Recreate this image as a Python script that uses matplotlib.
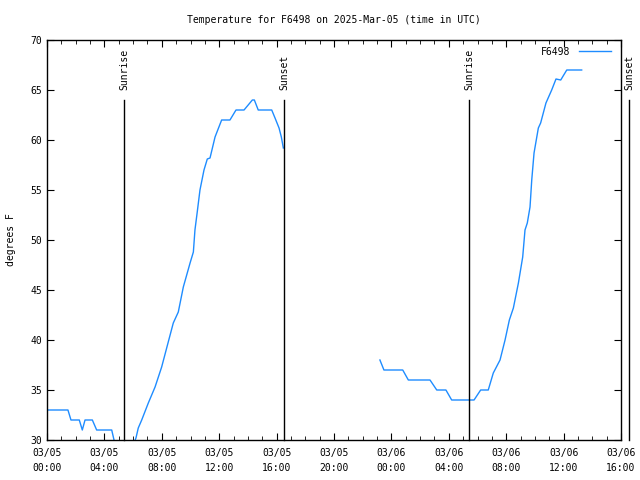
import matplotlib

matplotlib.use("Agg")

import matplotlib.pyplot as plt
from matplotlib.ticker import MultipleLocator

# hours since 2025-03-05 00:00 UTC
seg1_t = [0.0, 1.46, 1.67, 2.25, 2.46, 2.65, 3.16, 3.46, 4.51, 4.67, 5.0, 5.5, 6.0,
          6.20, 6.36, 6.60, 7.06, 7.53, 7.99, 8.45, 8.80, 9.15, 9.50, 9.97, 10.20,
          10.31, 10.47, 10.66, 10.94, 11.17, 11.36, 11.71, 12.17, 12.75, 13.17, 13.73,
          14.31, 14.45, 14.72, 15.66, 15.89, 16.17, 16.33, 16.47]
seg1_f = [33, 33, 32, 32, 31, 32, 32, 31, 31, 30, 29, 29, 29.5,
          30.2, 31.2, 32, 33.7, 35.3, 37.3, 39.8, 41.7, 42.8, 45.3, 47.7, 48.8,
          51, 52.8, 55, 57, 58.1, 58.2, 60.3, 62, 62, 63, 63,
          64, 64, 63, 63, 62.2, 61.2, 60.3, 59.2]

seg2_t = [23.2, 23.48, 24.79, 25.18, 26.69, 27.16, 27.80, 28.20, 29.76, 30.22, 30.75,
          31.1, 31.57, 31.92, 32.22, 32.5, 32.85, 33.15, 33.31, 33.47, 33.66, 33.78,
          33.94, 34.24, 34.40, 34.77, 35.17, 35.47, 35.8, 36.22, 37.26]
seg2_f = [38, 37, 37, 36, 36, 35, 35, 34, 34, 35, 35,
          36.7, 38, 40, 42, 43.2, 45.7, 48.3, 51, 51.7, 53.3, 56,
          58.7, 61.2, 61.7, 63.7, 65, 66.1, 66, 67, 67]

sun_t = [5.37, 16.55, 29.41, 40.59]
sun_lbl = ["Sunrise", "Sunset", "Sunrise", "Sunset"]

xticks = [0, 4, 8, 12, 16, 20, 24, 28, 32, 36, 40]
xlabels = ["03/05\n00:00", "03/05\n04:00", "03/05\n08:00", "03/05\n12:00",
           "03/05\n16:00", "03/05\n20:00", "03/06\n00:00", "03/06\n04:00",
           "03/06\n08:00", "03/06\n12:00", "03/06\n16:00"]

plt.rcParams["font.family"] = ["DejaVu Sans Mono"]
plt.rcParams["font.size"] = 7

fig = plt.figure(figsize=(6.4, 4.8), dpi=100)
ax = fig.add_axes([47 / 640, 40 / 480, 574 / 640, 400 / 480])

color = "#1e8cff"
ax.plot(seg1_t, seg1_f, color=color, lw=1, label="F6498")
ax.plot(seg2_t, seg2_f, color=color, lw=1)

for t, lbl in zip(sun_t, sun_lbl):
    ax.plot([t, t], [30, 64], color="black", lw=1, clip_on=False)
    ax.text(t, 65, lbl, rotation=90, ha="center", va="bottom", clip_on=False)

ax.set_xlim(0, 40)
ax.set_ylim(30, 70)
ax.set_xticks(xticks)
ax.set_xticklabels(xlabels, linespacing=1.6)
ax.xaxis.set_minor_locator(MultipleLocator(1))
ax.yaxis.set_major_locator(MultipleLocator(5))
ax.tick_params(direction="in", top=True, right=True, which="both", length=5)
ax.tick_params(which="minor", length=3)
ax.tick_params(axis="x", pad=6)
for s in ax.spines.values():
    s.set_linewidth(1)

ax.set_ylabel("degrees F", labelpad=10)
ax.set_title("Temperature for F6498 on 2025-Mar-05 (time in UTC)", pad=12, fontsize=7)
ax.legend(loc="upper right", frameon=False, markerfirst=False, handlelength=3.3,
          handletextpad=0.9, borderaxespad=0.3, bbox_to_anchor=(0.995, 1.0))

fig.savefig("out.png", dpi=100)
plt.close(fig)
